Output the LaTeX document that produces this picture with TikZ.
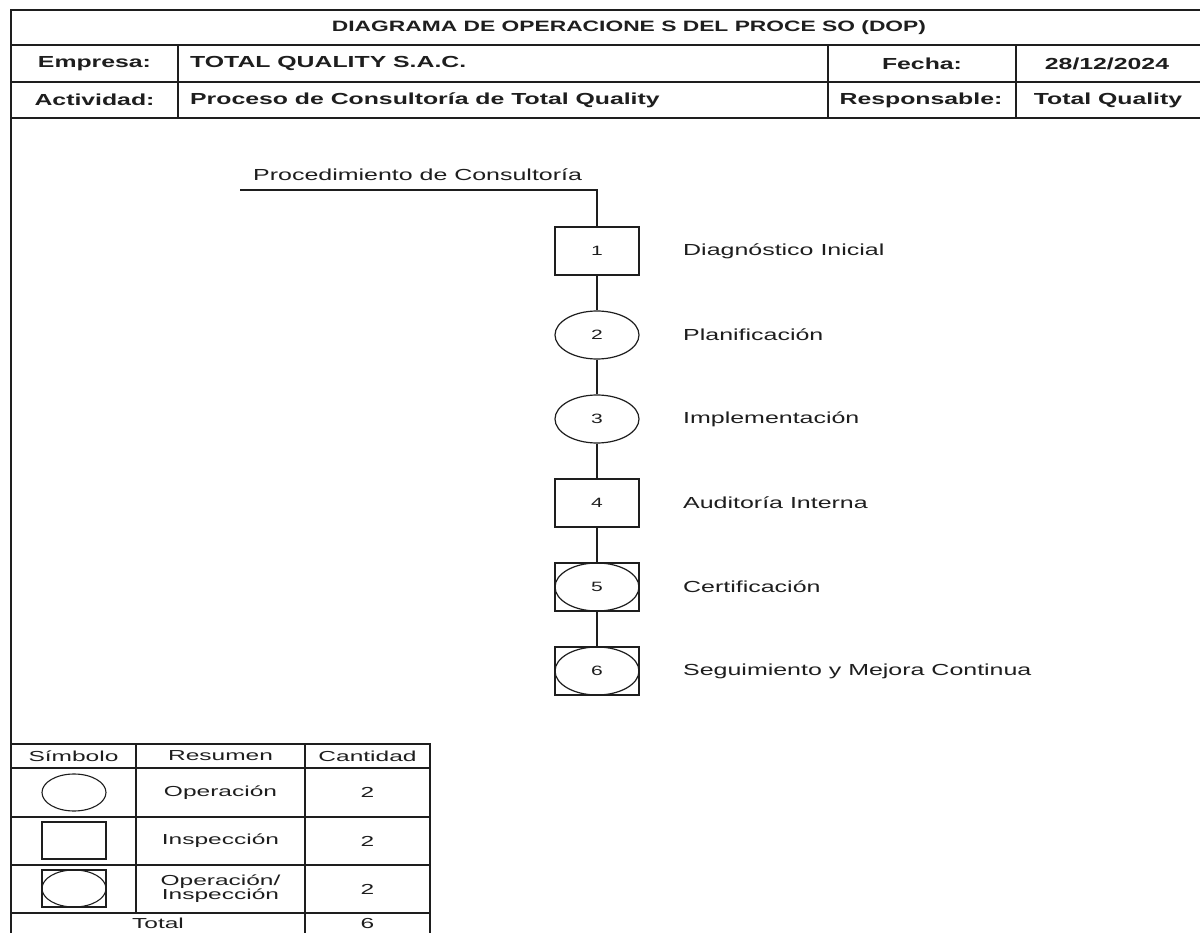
\documentclass[tikz,border=0pt]{standalone}
\usepackage{fontspec}
\setmainfont{Liberation Sans}
\newfontfamily\fhead{Liberation Sans}[FakeStretch=1.55]
\newfontfamily\ftitle{Liberation Sans}[FakeStretch=1.52]
\newfontfamily\flab{Liberation Sans}[FakeStretch=1.56]
\newfontfamily\fleg{Liberation Sans}[FakeStretch=1.69]
\usetikzlibrary{shapes.geometric}
\definecolor{ink}{HTML}{1E1E1E}
\tikzset{
  frame/.style={draw=ink, line width=1.3pt},
  conn/.style={draw=ink, line width=1.2pt},
  headtxt/.style={text=ink, font=\fhead\bfseries\fontsize{16}{19}\selectfont, inner sep=0pt},
  titletxt/.style={text=ink, font=\ftitle\bfseries\fontsize{15}{18}\selectfont, inner sep=0pt},
  labtxt/.style={text=ink, font=\flab\fontsize{16}{19}\selectfont, inner sep=0pt, anchor=west},
  legtxt/.style={text=ink, font=\fleg\fontsize{14.5}{16}\selectfont, inner sep=0pt, align=center},
  numtxt/.style={text=ink, font=\flab\fontsize{13.5}{15}\selectfont},
  inspbox/.style={draw=ink, line width=1.2pt, rectangle, minimum width=84pt, minimum height=48pt, inner sep=0pt, numtxt},
  operell/.style={draw=ink, line width=1.2pt, ellipse, minimum width=84pt, minimum height=48pt, inner sep=0pt, numtxt},
  opinbox/.style={inspbox, path picture={\draw[ink, line width=1.2pt] (path picture bounding box.center) ellipse [x radius=42pt, y radius=24pt];}},
  leginsp/.style={draw=ink, line width=1.1pt, rectangle, minimum width=64pt, minimum height=37pt, inner sep=0pt},
  legoper/.style={draw=ink, line width=1.1pt, ellipse, minimum width=64pt, minimum height=37pt, inner sep=0pt},
  legopin/.style={leginsp, path picture={\draw[ink, line width=1.1pt] (path picture bounding box.center) ellipse [x radius=32pt, y radius=18.5pt];}},
}
\begin{document}
\begin{tikzpicture}[x=1pt,y=-1pt]
\useasboundingbox (0,0) rectangle (1200,933);
\fill[white] (0,0) rectangle (1200,933);

% ---- header frame ----
\draw[frame] (11,933) -- (11,10) -- (1200,10);
\draw[frame] (11,45) -- (1200,45);
\draw[frame] (11,82) -- (1200,82);
\draw[frame] (11,118) -- (1200,118);
\draw[frame] (178,45) -- (178,118);
\draw[frame] (828,45) -- (828,118);
\draw[frame] (1016,45) -- (1016,118);

\node[titletxt] (title) at (629,27.5) {DIAGRAMA DE OPERACIONE S DEL PROCE SO (DOP)};
\node[headtxt] (emp) at (94.5,63.5) {Empresa:};
\node[headtxt, anchor=west] (empv) at (190,63.5) {TOTAL QUALITY S.A.C.};
\node[headtxt] (fec) at (922,63.5) {Fecha:};
\node[headtxt] (fecv) at (1107,63.5) {28/12/2024};
\node[headtxt] (act) at (94.5,100) {Actividad:};
\node[headtxt, anchor=west] (actv) at (190,100) {Proceso de Consultoría de Total Quality};
\node[headtxt] (res) at (921,100) {Responsable:};
\node[headtxt] (resv) at (1108,100) {Total Quality};

% ---- process ----
\coordinate (start) at (240,190);
\coordinate (corner) at (597,190);
\node[labtxt, anchor=south west] (proc) at (253,181) {Procedimiento de Consultoría};

\node[inspbox] (n1) at (597,251) {1};
\node[operell] (n2) at (597,335) {2};
\node[operell] (n3) at (597,419) {3};
\node[inspbox] (n4) at (597,503) {4};
\node[opinbox] (n5) at (597,587) {5};
\node[opinbox] (n6) at (597,671) {6};

\draw[conn] (start) -- (corner) -- (n1.north);
\draw[conn] (n1) -- (n2);
\draw[conn] (n2) -- (n3);
\draw[conn] (n3) -- (n4);
\draw[conn] (n4) -- (n5);
\draw[conn] (n5) -- (n6);

\node[labtxt] (l1) at (683,251) {Diagnóstico Inicial};
\node[labtxt] (l2) at (683,335) {Planificación};
\node[labtxt] (l3) at (683,419) {Implementación};
\node[labtxt] (l4) at (683,503) {Auditoría Interna};
\node[labtxt] (l5) at (683,587) {Certificación};
\node[labtxt] (l6) at (683,671) {Seguimiento y Mejora Continua};

% ---- legend table ----
\draw[frame, line width=1.1pt] (11,744) -- (430,744) -- (430,933);
\draw[frame, line width=1.1pt] (11,768) -- (430,768);
\draw[frame, line width=1.1pt] (11,817) -- (430,817);
\draw[frame, line width=1.1pt] (11,865) -- (430,865);
\draw[frame, line width=1.1pt] (11,913) -- (430,913);
\draw[frame, line width=1.1pt] (136,744) -- (136,913);
\draw[frame, line width=1.1pt] (305,744) -- (305,933);

\node[legtxt] (hs) at (73.5,756) {Símbolo};
\node[legtxt] (hr) at (220.5,756) {Resumen};
\node[legtxt] (hc) at (367.5,756) {Cantidad};

\node[legoper] (s1) at (74,792.5) {};
\node[legtxt] (r1) at (220.5,792.5) {Operación};
\node[legtxt] (c1) at (367.5,792.5) {2};

\node[leginsp] (s2) at (74,840.5) {};
\node[legtxt] (r2) at (220.5,841) {Inspección};
\node[legtxt] (c2) at (367.5,841) {2};

\node[legopin] (s3) at (74,888.5) {};
\node[legtxt] (r3) at (220.5,889) {Operación/\\[-2pt]Inspección};
\node[legtxt] (c3) at (367.5,889) {2};

\node[legtxt] (tt) at (158,923.5) {Total};
\node[legtxt] (tc) at (367.5,923.5) {6};
\end{tikzpicture}
\end{document}
